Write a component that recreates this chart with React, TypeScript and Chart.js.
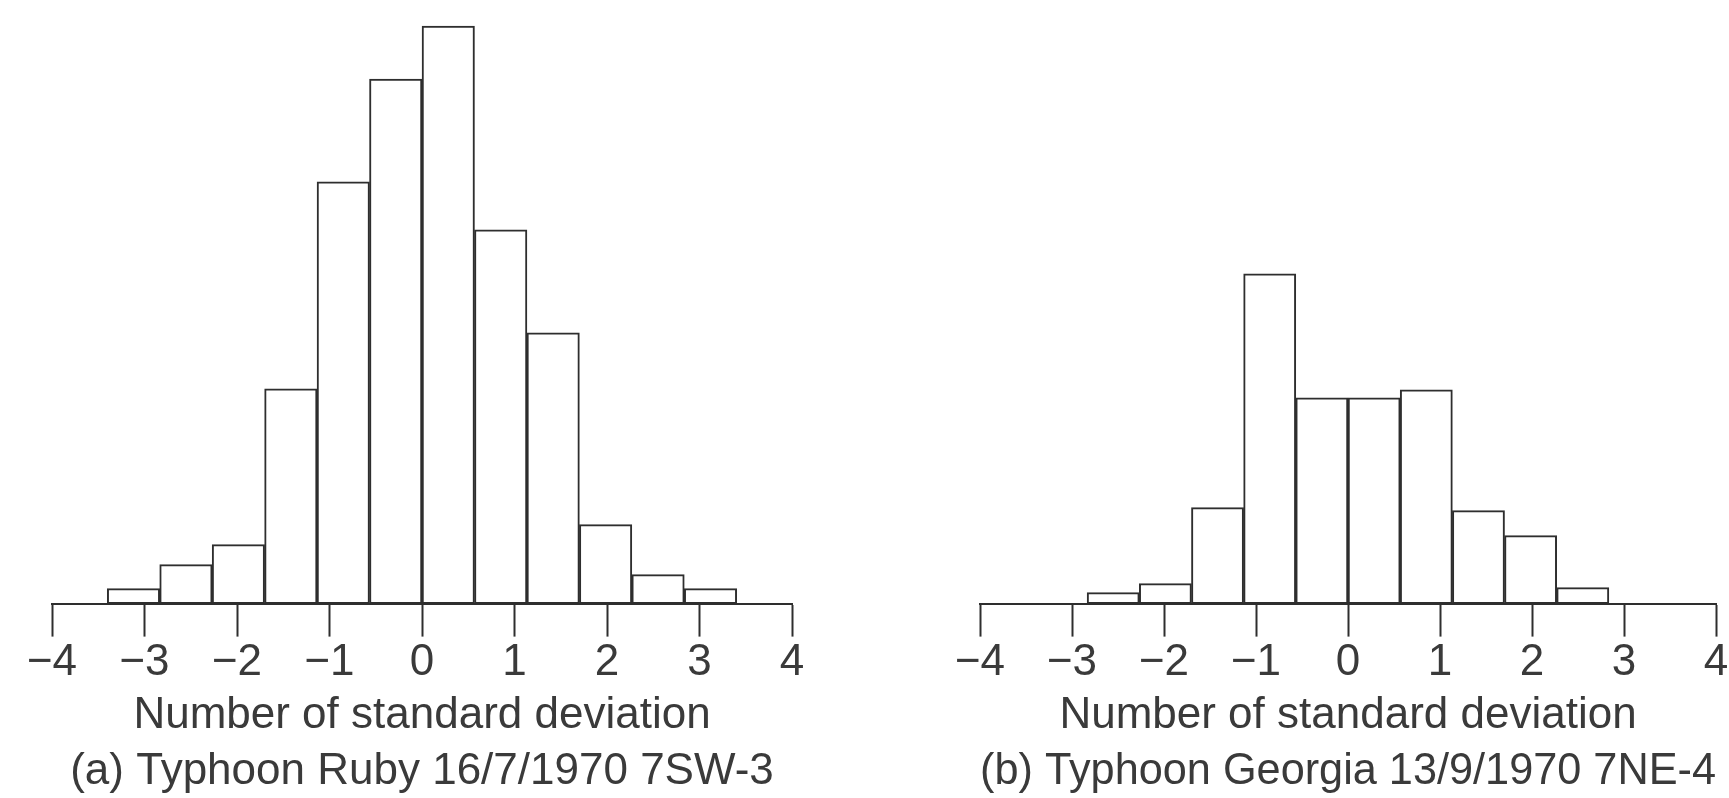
import React, { useEffect, useRef } from "react";
import { Chart, registerables } from "chart.js";

Chart.register(...registerables);

// Bin centres (number of standard deviations), bin width ≈ 0.567
const rubyBinCenters = [-3.119, -2.552, -1.985, -1.418, -0.851, -0.284, 0.284, 0.851, 1.418, 1.985, 2.552, 3.119];
const rubyFrequency = [15, 39, 59, 215, 422, 525, 578, 374, 271, 79, 29, 15];

const georgiaBinCenters = [-2.552, -1.985, -1.418, -0.851, -0.284, 0.284, 0.851, 1.418, 1.985, 2.552];
const georgiaFrequency = [11, 20, 96, 330, 206, 206, 214, 93, 68, 16];

const xTickValues = [-4, -3, -2, -1, 0, 1, 2, 3, 4];
const xTickLabels = ["\u22124", "\u22123", "\u22122", "\u22121", "0", "1", "2", "3", "4"];

const axisTitle = "Number of standard deviation";
const rubyCaption = "(a) Typhoon Ruby 16/7/1970 7SW-3";
const georgiaCaption = "(b) Typhoon Georgia 13/9/1970 7NE-4";

const INK = "#2e2e2e";
const TEXT = "#3a3a3a";
const FONT = "'Liberation Sans', Arial, Helvetica, sans-serif";

function Histogram(props: {
  centers: number[];
  values: number[];
  caption: string;
  width: number;
  height: number;
  padLeft: number;
  padRight: number;
}) {
  const ref = useRef<HTMLCanvasElement | null>(null);
  useEffect(() => {
    if (!ref.current) return;
    const chart = new Chart(ref.current, {
      type: "bar",
      data: {
        datasets: [
          {
            data: props.centers.map((x, i) => ({ x, y: props.values[i] })),
            backgroundColor: "#ffffff",
            borderColor: INK,
            borderWidth: 2,
            borderSkipped: false,
            barPercentage: 1,
            categoryPercentage: 1,
          } as any,
        ],
      },
      options: {
        responsive: false,
        animation: false,
        devicePixelRatio: 1,
        layout: { padding: { top: 24, left: props.padLeft, right: props.padRight, bottom: 0 } },
        plugins: {
          legend: { display: false },
          tooltip: { enabled: false },
          title: {
            display: true,
            position: "bottom",
            text: props.caption,
            color: TEXT,
            font: { family: FONT, size: 44, weight: "normal" },
            padding: { top: 3, bottom: 0 },
          },
        },
        scales: {
          x: {
            type: "linear",
            min: -4,
            max: 4,
            offset: false,
            afterBuildTicks: (scale: any) => {
              scale.ticks = xTickValues.map((v) => ({ value: v }));
            },
            ticks: {
              autoSkip: false,
              maxRotation: 0,
              padding: 0,
              color: TEXT,
              font: { family: FONT, size: 44 },
              callback: (v: any) => {
                const i = xTickValues.indexOf(Number(v));
                return i >= 0 ? xTickLabels[i] : "";
              },
            },
            grid: {
              display: true,
              offset: false,
              drawOnChartArea: false,
              drawTicks: true,
              tickLength: 33,
              tickColor: INK,
              tickWidth: 2,
            },
            border: { display: true, color: INK, width: 2 },
            title: {
              display: true,
              text: axisTitle,
              color: TEXT,
              font: { family: FONT, size: 44 },
              padding: { top: 0, bottom: 0 },
            },
          },
          y: {
            display: false,
            min: 0,
            max: 580,
          },
        },
      } as any,
    });
    return () => chart.destroy();
  }, []);
  return <canvas ref={ref} width={props.width} height={props.height} style={{ display: "block" }} />;
}

export default function App() {
  useEffect(() => {
    document.body.style.margin = "0";
    document.body.style.background = "#ffffff";
  }, []);
  return (
    <div style={{ position: "relative", width: 1729, height: 798, background: "#ffffff", overflow: "hidden" }}>
      <div style={{ position: "absolute", left: 0, top: 0 }}>
        <Histogram
          centers={rubyBinCenters}
          values={rubyFrequency}
          caption={rubyCaption}
          width={864}
          height={798}
          padLeft={52}
          padRight={72}
        />
      </div>
      <div style={{ position: "absolute", left: 864, top: 0 }}>
        <Histogram
          centers={georgiaBinCenters}
          values={georgiaFrequency}
          caption={georgiaCaption}
          width={865}
          height={798}
          padLeft={116}
          padRight={13}
        />
      </div>
    </div>
  );
}
